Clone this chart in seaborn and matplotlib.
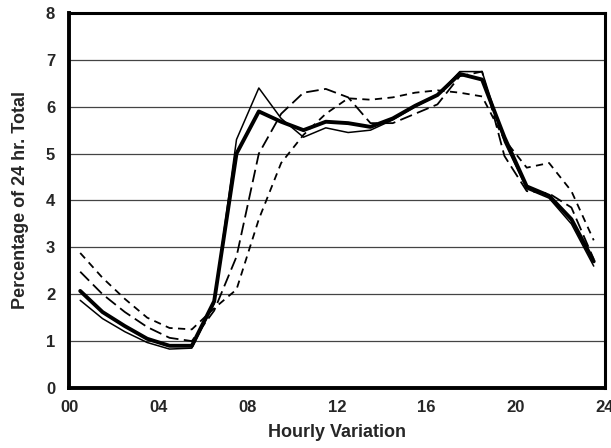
import numpy as np
import pandas as pd
import matplotlib
matplotlib.use('Agg')
import matplotlib.pyplot as plt
import seaborn as sns

sns.set_style('white')
plt.rcParams['font.family'] = ['Liberation Sans', 'DejaVu Sans']

hours = [h + 0.5 for h in range(24)]

# thick solid line
avg = [2.07, 1.62, 1.32, 1.05, 0.9, 0.9, 1.85, 5.0, 5.9, 5.68, 5.5, 5.68,
       5.65, 5.57, 5.75, 6.02, 6.25, 6.7, 6.58, 5.35, 4.3, 4.1, 3.6, 2.7]
# thin solid line
thin = [1.87, 1.48, 1.2, 0.97, 0.83, 0.85, 1.8, 5.3, 6.4, 5.75, 5.35, 5.55,
        5.45, 5.5, 5.72, 6.0, 6.25, 6.75, 6.75, 5.25, 4.25, 4.05, 3.5, 2.6]
# long dashes
longd = [2.48, 2.0, 1.62, 1.3, 1.07, 1.0, 1.65, 2.8, 5.0, 5.85, 6.3, 6.38,
         6.2, 5.65, 5.65, 5.85, 6.05, 6.65, 6.75, 4.95, 4.2, 4.15, 3.85, 2.75]
# short dashes
shortd = [2.88, 2.35, 1.9, 1.5, 1.28, 1.25, 1.7, 2.1, 3.6, 4.8, 5.4, 5.85,
          6.18, 6.15, 6.2, 6.3, 6.35, 6.3, 6.22, 5.3, 4.7, 4.8, 4.2, 3.15]

xticks = [0, 4, 8, 12, 16, 20, 24]
xlabels = ['00', '04', '08', '12', '16', '20', '24']

fig = plt.figure(figsize=(6.11, 4.48), dpi=100)
ax = fig.add_axes([0.113, 0.134, 0.877, 0.837])

for y in range(1, 8):
    ax.axhline(y, color='#444444', lw=0.9, zorder=0)

sns.lineplot(x=hours, y=shortd, ax=ax, color='black', lw=1.3,
             linestyle=(0, (4, 3)))
sns.lineplot(x=hours, y=longd, ax=ax, color='black', lw=1.3,
             linestyle=(0, (7, 3)))
sns.lineplot(x=hours, y=thin, ax=ax, color='black', lw=1.1)
sns.lineplot(x=hours, y=avg, ax=ax, color='black', lw=2.8)

ax.set_xlim(0, 24)
ax.set_ylim(0, 8)
ax.set_xticks(xticks)
ax.set_xticklabels(xlabels)
ax.set_yticks(range(9))
ax.tick_params(axis='both', direction='out', length=3, width=1, labelsize=12,
               color='black')
ax.tick_params(axis='y', pad=7)
ax.tick_params(axis='x', pad=6)
for lab in ax.get_xticklabels() + ax.get_yticklabels():
    lab.set_fontweight('bold')

for side in ['left', 'bottom']:
    ax.spines[side].set_linewidth(2.8)
for side in ['top', 'right']:
    ax.spines[side].set_linewidth(2.2)
for s in ax.spines.values():
    s.set_color('black')

ax.set_xlabel('Hourly Variation', fontsize=13, fontweight='bold', labelpad=6)
ax.set_ylabel('Percentage of 24 hr. Total', fontsize=13, fontweight='bold',
              labelpad=12)

fig.savefig('out.png', dpi=100)
